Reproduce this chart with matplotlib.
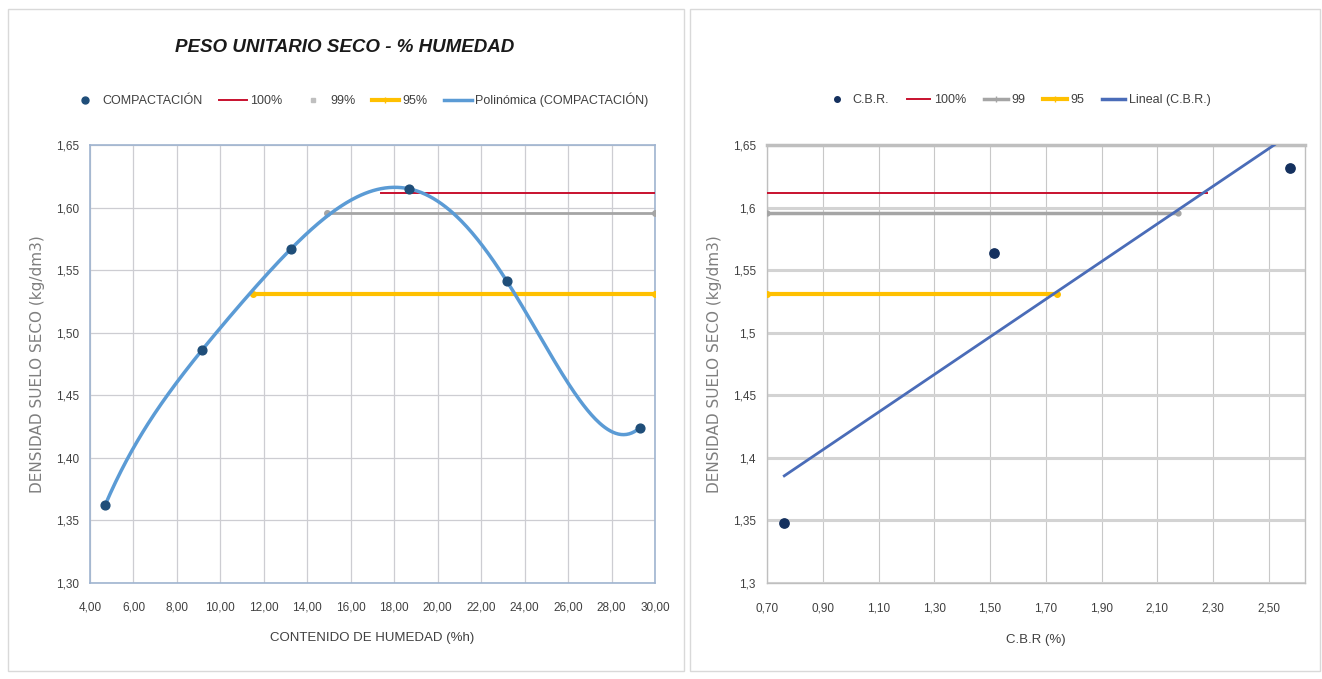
import numpy as np
import matplotlib
matplotlib.use("Agg")
import matplotlib.pyplot as plt
from matplotlib.ticker import FuncFormatter
from matplotlib.patches import Rectangle
from matplotlib.lines import Line2D

plt.rcParams['font.family'] = ['Liberation Sans', 'DejaVu Sans']

# ---- Left chart data ----
humedad = [4.69, 9.15, 13.25, 18.68, 23.19, 29.30]
densidad = [1.362, 1.486, 1.567, 1.615, 1.541, 1.424]
left_100_x = [17.4, 30.0]
left_100_y = [1.612, 1.612]
left_99_x = [14.9, 30.0]
left_99_y = [1.596, 1.596]
left_95_x = [11.5, 30.0]
left_95_y = [1.531, 1.531]
left_xticks = [4, 6, 8, 10, 12, 14, 16, 18, 20, 22, 24, 26, 28, 30]
left_yticks = [1.30, 1.35, 1.40, 1.45, 1.50, 1.55, 1.60, 1.65]

# ---- Right chart data ----
cbr = [0.762, 1.516, 2.575]
cbr_dens = [1.348, 1.5635, 1.6316]
right_100_x = [0.70, 2.28]
right_100_y = [1.612, 1.612]
right_99_x = [0.70, 2.175]
right_99_y = [1.596, 1.596]
right_95_x = [0.70, 1.739]
right_95_y = [1.531, 1.531]
right_xticks = [0.70, 0.90, 1.10, 1.30, 1.50, 1.70, 1.90, 2.10, 2.30, 2.50]
right_yticks = [1.30, 1.35, 1.40, 1.45, 1.50, 1.55, 1.60, 1.65]

W, H = 1322, 679
fig = plt.figure(figsize=(W/100, H/100), dpi=100)

# panel borders
fig.patches.append(Rectangle((8/W, 8/H), 676/W, 662/H, transform=fig.transFigure,
                             fill=False, ec='#d9d9d9', lw=1))
fig.patches.append(Rectangle((690/W, 8/H), 630/W, 662/H, transform=fig.transFigure,
                             fill=False, ec='#d9d9d9', lw=1))

pt_color = '#1f4e79'
tick_col = '#404040'

def comma2(v, p):
    return f"{v:.2f}".replace('.', ',')

def comma_gen(v, p):
    s = f"{v:.2f}".rstrip('0').rstrip('.')
    return s.replace('.', ',')

# ---------- LEFT ----------
ax1 = fig.add_axes([90/W, 1-583/H, 565/W, 438/H])
ax1.set_xlim(4, 30)
ax1.set_ylim(1.30, 1.65)
ax1.set_xticks(left_xticks)
ax1.set_yticks(left_yticks)
ax1.xaxis.set_major_formatter(FuncFormatter(comma2))
ax1.yaxis.set_major_formatter(FuncFormatter(comma2))
ax1.grid(True, color='#cdcdd2', lw=0.9)
ax1.set_axisbelow(True)
for s in ax1.spines.values():
    s.set_color('#9fb4d0')
    s.set_linewidth(1.2)
ax1.tick_params(length=0, labelsize=8.5, colors=tick_col, pad=8)
ax1.tick_params(axis='x', pad=13)

coef = np.polyfit(humedad, densidad, 5)
xs = np.linspace(min(humedad), max(humedad), 400)
ax1.plot(left_100_x, left_100_y, color='#c8102e', lw=1.4, label='100%', zorder=3)
ax1.plot(left_99_x, left_99_y, color='#a5a5a5', lw=2, marker='o', ms=4, label='99%', zorder=3)
ax1.plot(left_95_x, left_95_y, color='#ffc000', lw=3, marker='o', ms=4, label='95%', zorder=3)
ax1.plot(xs, np.polyval(coef, xs), color='#5b9bd5', lw=2.5, label='Polinómica (COMPACTACIÓN)', zorder=4)
ax1.scatter(humedad, densidad, s=40, color=pt_color, zorder=5, label='COMPACTACIÓN')

ax1.set_xlabel('CONTENIDO DE HUMEDAD (%h)', fontsize=9.5, color=tick_col, labelpad=14)
ax1.set_ylabel('DENSIDAD SUELO SECO (kg/dm3)', fontsize=11, color='#7f7f7f',
               family=['DejaVu Sans'], labelpad=8)
fig.text(345/W, 1-48/H, 'PESO UNITARIO SECO - % HUMEDAD', ha='center', va='center',
         fontsize=13.5, fontweight='bold', fontstyle='italic', color='#1a1a1a')

h1 = [Line2D([], [], ls='none', marker='o', ms=5, color=pt_color),
      Line2D([], [], color='#c8102e', lw=1.4),
      Line2D([], [], ls='none', marker='s', ms=3, color='#bfbfbf'),
      Line2D([], [], color='#ffc000', lw=3, marker='|', ms=4),
      Line2D([], [], color='#5b9bd5', lw=2.5)]
l1 = ['COMPACTACIÓN', '100%', '99%', '95%', 'Polinómica (COMPACTACIÓN)']
fig.legend(h1, l1, loc='center', bbox_to_anchor=(360/W, 1-100/H), ncol=5, frameon=False,
           fontsize=9, handlelength=2.2, columnspacing=1.3, handletextpad=0.3,
           labelcolor=tick_col)

# ---------- RIGHT ----------
ax2 = fig.add_axes([767/W, 1-583/H, 538/W, 438/H])
ax2.set_xlim(0.70, 2.63)
ax2.set_ylim(1.30, 1.65)
ax2.set_xticks(right_xticks)
ax2.set_yticks(right_yticks)
ax2.xaxis.set_major_formatter(FuncFormatter(comma2))
ax2.yaxis.set_major_formatter(FuncFormatter(comma_gen))
ax2.yaxis.grid(True, color='#d3d3d3', lw=2.2)
ax2.xaxis.grid(True, color='#c8c8c8', lw=0.8)
ax2.set_axisbelow(True)
for s in ax2.spines.values():
    s.set_color('#bfbfbf')
    s.set_linewidth(1)
ax2.spines['top'].set_linewidth(2.5)
ax2.tick_params(length=0, labelsize=8.5, colors=tick_col, pad=8)
ax2.tick_params(axis='x', pad=14)

ax2.plot(right_100_x, right_100_y, color='#c8102e', lw=1.4, label='100%', zorder=3)
ax2.plot(right_99_x, right_99_y, color='#a5a5a5', lw=2.5, marker='o', ms=3.5, label='99', zorder=3)
ax2.plot(right_95_x, right_95_y, color='#ffc000', lw=3, marker='o', ms=4, label='95', zorder=3)
lc = np.polyfit(cbr, cbr_dens, 1)
xr = np.array([min(cbr), max(cbr)])
ax2.plot(xr, np.polyval(lc, xr), color='#4a6cb8', lw=2, label='Lineal (C.B.R.)', zorder=4)
ax2.scatter(cbr, cbr_dens, s=45, color='#14305e', zorder=5, label='C.B.R.')

ax2.set_xlabel('C.B.R (%)', fontsize=9.5, color=tick_col, labelpad=14)
ax2.set_ylabel('DENSIDAD SUELO SECO (kg/dm3)', fontsize=11, color='#7f7f7f',
               family=['DejaVu Sans'], labelpad=8)

h2 = [Line2D([], [], ls='none', marker='o', ms=4, color='#14305e'),
      Line2D([], [], color='#c8102e', lw=1.4),
      Line2D([], [], color='#a5a5a5', lw=2.5, marker='|', ms=4),
      Line2D([], [], color='#ffc000', lw=3, marker='|', ms=4),
      Line2D([], [], color='#4a6cb8', lw=2.5)]
l2 = ['C.B.R.', '100%', '99', '95', 'Lineal (C.B.R.)']
fig.legend(h2, l2, loc='center', bbox_to_anchor=(1018/W, 1-100/H), ncol=5, frameon=False,
           fontsize=9, handlelength=1.9, columnspacing=1.4, handletextpad=0.3,
           labelcolor=tick_col)

fig.savefig('out.png', dpi=100)
